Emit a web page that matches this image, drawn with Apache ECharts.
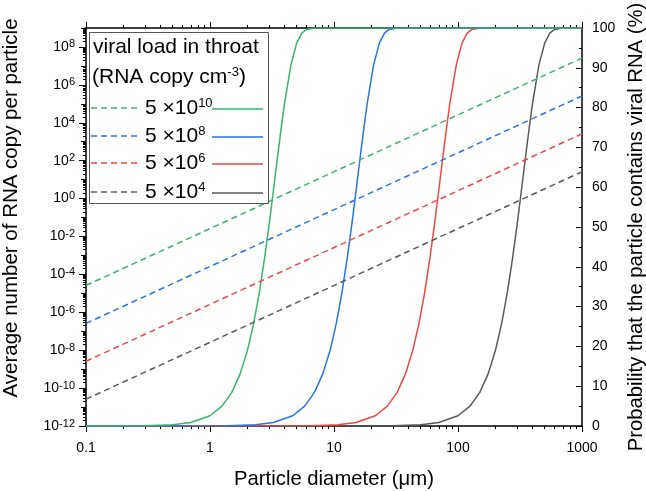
<!DOCTYPE html>
<html><head><meta charset="utf-8">
<script src="https://cdn.jsdelivr.net/npm/echarts@6/dist/echarts.min.js"></script>
<style>html,body{margin:0;padding:0;background:#fff}#c{width:646px;height:491px}</style>
</head><body><div id="c"></div><script>
const FONT = "'Liberation Sans', Arial, sans-serif";

// ---- data ----
const loadExp = ['10', '8', '6', '4'];            // viral load 5 × 10^n
const colors = ['#3cb46a', '#2b72e6', '#f04646', '#5a5a5a'];

const dashX = [0.1, 1000];
const dashGreen = [2.6e-5, 2.6e7];
const dashBlue = [2.6e-7, 2.6e5];
const dashRed = [2.6e-9, 2.6e3];
const dashGrey = [2.6e-11, 2.6e1];

const probGreenX = [0.1, 0.3, 0.5, 0.7, 1, 1.25, 1.5, 1.75, 2, 2.25, 2.5, 2.75, 3, 3.25, 3.5, 3.75, 4, 4.5, 5, 5.5, 6, 7, 8, 1000];
const probGreenY = [0, 0.07, 0.33, 0.89, 2.58, 4.98, 8.46, 13.09, 18.89, 25.78, 33.57, 41.99, 50.68, 59.29, 67.46, 74.86, 81.28, 90.8, 96.21, 98.72, 99.65, 99.99, 100, 100];

const probBlueX = [0.1, 1.39, 2.32, 3.25, 4.64, 5.8, 6.96, 8.12, 9.28, 10.44, 11.6, 12.76, 13.92, 15.09, 16.25, 17.41, 18.57, 20.89, 23.21, 25.53, 27.85, 32.49, 37.13, 1000];
const probBlueY = [0, 0.07, 0.33, 0.89, 2.58, 4.98, 8.46, 13.09, 18.89, 25.78, 33.57, 41.99, 50.68, 59.29, 67.46, 74.86, 81.28, 90.8, 96.21, 98.72, 99.65, 99.99, 100, 100];

const probRedX = [0.1, 6.46, 10.77, 15.08, 21.54, 26.93, 32.32, 37.7, 43.09, 48.47, 53.86, 59.25, 64.63, 70.02, 75.4, 80.79, 86.18, 96.95, 107.7, 118.5, 129.3, 150.8, 172.4, 1000];
const probRedY = [0, 0.07, 0.33, 0.89, 2.58, 4.98, 8.46, 13.09, 18.89, 25.78, 33.57, 41.99, 50.68, 59.29, 67.46, 74.86, 81.28, 90.8, 96.21, 98.72, 99.65, 99.99, 100, 100];

const probGreyX = [0.1, 30, 50, 70, 100, 125, 150, 175, 200, 225, 250, 275, 300, 325, 350, 375, 400, 450, 500, 550, 600, 700, 800, 1000];
const probGreyY = [0, 0.07, 0.33, 0.89, 2.58, 4.98, 8.46, 13.09, 18.89, 25.78, 33.57, 41.99, 50.68, 59.29, 67.46, 74.86, 81.28, 90.8, 96.21, 98.72, 99.65, 99.99, 100, 100];

const xTicks = [0.1, 1, 10, 100, 1000];
const xTickLabels = ['0.1', '1', '10', '100', '1000'];
const yLeftLabelExp = [-12, -10, -8, -6, -4, -2, 0, 2, 4, 6, 8];
const yLeftOddExp = [-11, -9, -7, -5, -3, -1, 1, 3, 5, 7, 9];

// ---- tick helpers (positions of minor ticks, not data) ----
function minorLog(lo, hi) {
  const out = [];
  for (let e = lo; e < hi; e++) for (let m = 2; m <= 9; m++) out.push(m * Math.pow(10, e));
  return out;
}
const xMinor = minorLog(-1, 3);
const yMinor = minorLog(-12, 9);
const yMajor = yLeftLabelExp.map(e => Math.pow(10, e));
const yOdd = yLeftOddExp.map(e => Math.pow(10, e));

const pair = (xs, ys) => xs.map((x, i) => [x, ys[i]]);

const chart = echarts.init(document.getElementById('c'), null, {renderer: 'canvas'});

const axLine = {show: true, onZero: false, lineStyle: {color: '#000', width: 1.5}};
const noLine = {show: false, onZero: false};
const xBase = {type: 'log', logBase: 10, min: 0.1, max: 1000, splitLine: {show: false}};
const yLogBase = {type: 'log', logBase: 10, min: 1e-12, max: 1e9, splitLine: {show: false}};

function xAx(pos, ticks, len, extra) {
  return Object.assign({}, xBase, {
    position: pos,
    axisLine: extra && extra.line ? axLine : noLine,
    axisTick: {show: true, inside: false, length: len, customValues: ticks, lineStyle: {color: '#000', width: 1}},
    axisLabel: {show: false}
  }, extra && extra.more ? extra.more : {});
}
function yAx(ticks, len, extra) {
  return Object.assign({}, yLogBase, {
    position: 'left',
    axisLine: extra && extra.line ? axLine : noLine,
    axisTick: {show: true, inside: false, length: len, customValues: ticks, lineStyle: {color: '#000', width: 1}},
    axisLabel: {show: false}
  }, extra && extra.more ? extra.more : {});
}

const option = {
  animation: false,
  backgroundColor: '#fff',
  textStyle: {fontFamily: FONT},
  grid: {left: 86, right: 64, top: 28, bottom: 65, containLabel: false, outerBoundsMode: 'none'},
  xAxis: [
    xAx('bottom', xTicks, 6, {line: true, more: {
      axisLabel: {show: true, customValues: xTicks, margin: 15, color: '#000', fontSize: 14, fontFamily: FONT,
        formatter: v => { let best = 0; xTicks.forEach((t, i) => { if (Math.abs(Math.log10(t) - Math.log10(v)) < Math.abs(Math.log10(xTicks[best]) - Math.log10(v))) best = i; }); return xTickLabels[best]; }},
      name: 'Particle diameter (\u03bcm)', nameLocation: 'middle', nameGap: 43,
      nameTextStyle: {fontSize: 20.3, color: '#000', fontFamily: FONT}
    }}),
    xAx('bottom', xMinor, 3),
    xAx('top', xTicks, 6, {line: true}),
    xAx('top', xMinor, 3)
  ],
  yAxis: [
    yAx(yMajor, 7, {line: true, more: {
      axisLabel: {show: true, customValues: yMajor, margin: 11, color: '#000', fontFamily: FONT,
        formatter: v => '{b|10}{s|' + Math.round(Math.log10(v)) + '}',
        rich: {
          b: {fontSize: 14, color: '#000', fontFamily: FONT, lineHeight: 16},
          s: {fontSize: 11, color: '#000', fontFamily: FONT, verticalAlign: 'top', lineHeight: 11}
        }},
      name: 'Average number of RNA copy per particle', nameLocation: 'middle', nameGap: 64, nameRotate: 90,
      nameTextStyle: {fontSize: 20.5, color: '#000', fontFamily: FONT, padding: [0, 0, 0, 38]}
    }}),
    yAx(yOdd, 5),
    yAx(yMinor, 3),
    {
      type: 'value', position: 'right', min: 0, max: 100, interval: 10,
      axisLine: axLine,
      axisTick: {show: true, inside: true, length: 6, lineStyle: {color: '#000', width: 1}},
      minorTick: {show: true, splitNumber: 2, length: 3, lineStyle: {color: '#000', width: 1}},
      axisLabel: {show: true, margin: 10, color: '#000', fontSize: 14, fontFamily: FONT},
      splitLine: {show: false},
      name: 'Probability that the particle contains viral RNA (%)', nameLocation: 'middle', nameGap: 40, nameRotate: 90,
      nameTextStyle: {fontSize: 20.3, color: '#000', fontFamily: FONT}
    }
  ],
  series: [
    {type: 'line', name: 'n4', xAxisIndex: 0, yAxisIndex: 3, data: pair(probGreyX, probGreyY), symbol: 'none', lineStyle: {color: colors[3], width: 1.5}},
    {type: 'line', name: 'n6', xAxisIndex: 0, yAxisIndex: 3, data: pair(probRedX, probRedY), symbol: 'none', lineStyle: {color: colors[2], width: 1.5}},
    {type: 'line', name: 'n8', xAxisIndex: 0, yAxisIndex: 3, data: pair(probBlueX, probBlueY), symbol: 'none', lineStyle: {color: colors[1], width: 1.5}},
    {type: 'line', name: 'n10', xAxisIndex: 0, yAxisIndex: 3, data: pair(probGreenX, probGreenY), symbol: 'none', lineStyle: {color: colors[0], width: 1.5}},
    {type: 'line', name: 'd10', xAxisIndex: 0, yAxisIndex: 0, data: pair(dashX, dashGreen), symbol: 'none', lineStyle: {color: colors[0], width: 1.5, type: [6, 4]}},
    {type: 'line', name: 'd8', xAxisIndex: 0, yAxisIndex: 0, data: pair(dashX, dashBlue), symbol: 'none', lineStyle: {color: colors[1], width: 1.5, type: [6, 4]}},
    {type: 'line', name: 'd6', xAxisIndex: 0, yAxisIndex: 0, data: pair(dashX, dashRed), symbol: 'none', lineStyle: {color: colors[2], width: 1.5, type: [6, 4]}},
    {type: 'line', name: 'd4', xAxisIndex: 0, yAxisIndex: 0, data: pair(dashX, dashGrey), symbol: 'none', lineStyle: {color: colors[3], width: 1.5, type: [6, 4]}}
  ],
  graphic: []
};

// legend box (drawn as graphics)
const lg = [];
lg.push({type: 'rect', shape: {x: 89.5, y: 32.5, width: 179, height: 171}, style: {fill: '#fff', stroke: '#555', lineWidth: 1}, z: 10});
lg.push({type: 'text', x: 93, y: 47, z: 11, style: {text: 'viral load in throat', fill: '#000', font: '21px ' + FONT, verticalAlign: 'middle'}});
lg.push({type: 'text', x: 92, y: 77, z: 11, style: {
  text: '{a|(RNA copy cm}{s|-3}{a|)}', verticalAlign: 'middle',
  rich: {a: {fontSize: 21, fontFamily: FONT, color: '#000', lineHeight: 22}, s: {fontSize: 13, fontFamily: FONT, color: '#000', verticalAlign: 'top', lineHeight: 13}}
}});
const rowY = [108, 136, 163, 192];
loadExp.forEach((e, i) => {
  const y = rowY[i];
  lg.push({type: 'line', z: 11, shape: {x1: 91, y1: y, x2: 137, y2: y}, style: {stroke: colors[i], lineWidth: 1.5, lineDash: [6, 4]}});
  lg.push({type: 'text', x: 145, y: y, z: 11, style: {
    text: '{a|5 \u00d710}{s|' + e + '}', verticalAlign: 'middle',
    rich: {a: {fontSize: 21, fontFamily: FONT, color: '#000', lineHeight: 22}, s: {fontSize: 13, fontFamily: FONT, color: '#000', verticalAlign: 'top', lineHeight: 13}}
  }});
  lg.push({type: 'line', z: 11, shape: {x1: 212, y1: y + 1, x2: 263, y2: y + 1}, style: {stroke: colors[i], lineWidth: 1.5}});
});
option.graphic = lg;

chart.setOption(option);
</script></body></html>
